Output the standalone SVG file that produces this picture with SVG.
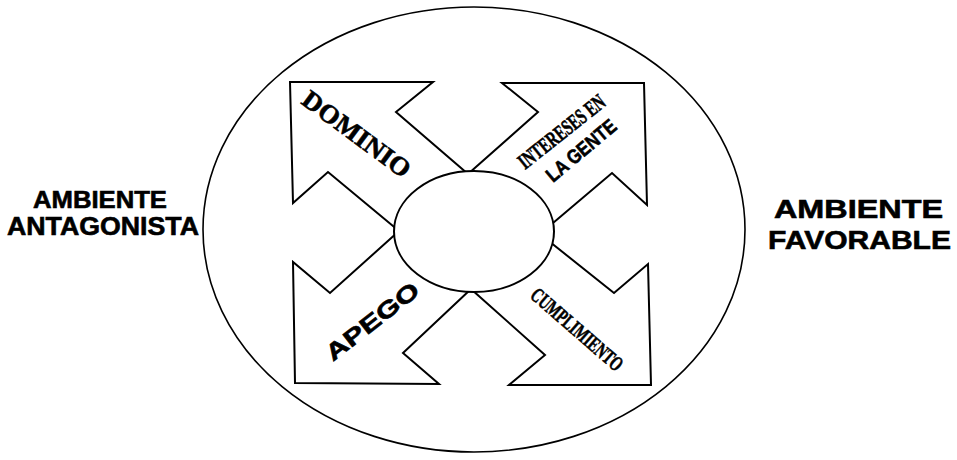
<svg xmlns="http://www.w3.org/2000/svg" width="957" height="460" viewBox="0 0 957 460">
<style>
.arrow{fill:#fff;stroke:#000;stroke-width:2;stroke-linejoin:miter}
.sans{font-family:"Liberation Sans",Arial,sans-serif;font-weight:bold;fill:#000;stroke:#000;stroke-width:0.6}
.serif{font-family:"Liberation Serif","Times New Roman",serif;font-weight:bold;fill:#000;stroke:#000;stroke-width:0.6}
</style>
<rect width="957" height="460" fill="#fff"/>
<g id="outer">
<ellipse cx="474" cy="229.5" rx="271" ry="222.5" fill="none" stroke="#000" stroke-width="1.6"/>
</g>
<g id="connectors">
<g id="arrow-dominio">
<polygon class="arrow" points="399,231 328,172 293,203 290,82 433,82 396,112 468,174 472,232"/>
<text class="serif" font-size="26" textLength="128" lengthAdjust="spacingAndGlyphs" transform="translate(300,103) rotate(36.5)">DOMINIO</text>
</g>
<g id="arrow-interes">
<polygon class="arrow" points="468,174 538,112 502,83 644,83 647,205 612,173 540,234 472,232"/>
<text class="serif" font-size="22" textLength="105" lengthAdjust="spacingAndGlyphs" transform="translate(525,170) rotate(-38.5)">INTERESES EN</text>
<text class="sans" font-size="20" textLength="85" lengthAdjust="spacingAndGlyphs" transform="translate(553,183) rotate(-40)">LA GENTE</text>
</g>
<g id="arrow-cumplimiento">
<polygon class="arrow" points="540,234 614,293 648,264 651,385 509,385 545,355 471,289 472,232"/>
<text class="serif" font-size="21" textLength="115" lengthAdjust="spacingAndGlyphs" transform="translate(529,297) rotate(41)">CUMPLIMIENTO</text>
</g>
<g id="arrow-apego">
<polygon class="arrow" points="471,289 403,353 439,384 295,383 293,262 330,293 399,231 472,232"/>
<text class="sans" font-size="23" textLength="112" lengthAdjust="spacingAndGlyphs" transform="translate(333,362) rotate(-38)">APEGO</text>
</g>
</g>
<g id="center">
<ellipse cx="474" cy="231.5" rx="80" ry="60.5" fill="#fff" stroke="#000" stroke-width="2"/>
</g>
<g id="antagonista">
<text class="sans" x="33" y="208" font-size="24" textLength="134" lengthAdjust="spacingAndGlyphs">AMBIENTE</text>
<text class="sans" x="7" y="235" font-size="25" textLength="192" lengthAdjust="spacingAndGlyphs">ANTAGONISTA</text>
</g>
<g id="favorable">
<text class="sans" x="774" y="218" font-size="26" textLength="169" lengthAdjust="spacingAndGlyphs">AMBIENTE</text>
<text class="sans" x="768" y="249" font-size="26" textLength="183" lengthAdjust="spacingAndGlyphs">FAVORABLE</text>
</g>
</svg>
